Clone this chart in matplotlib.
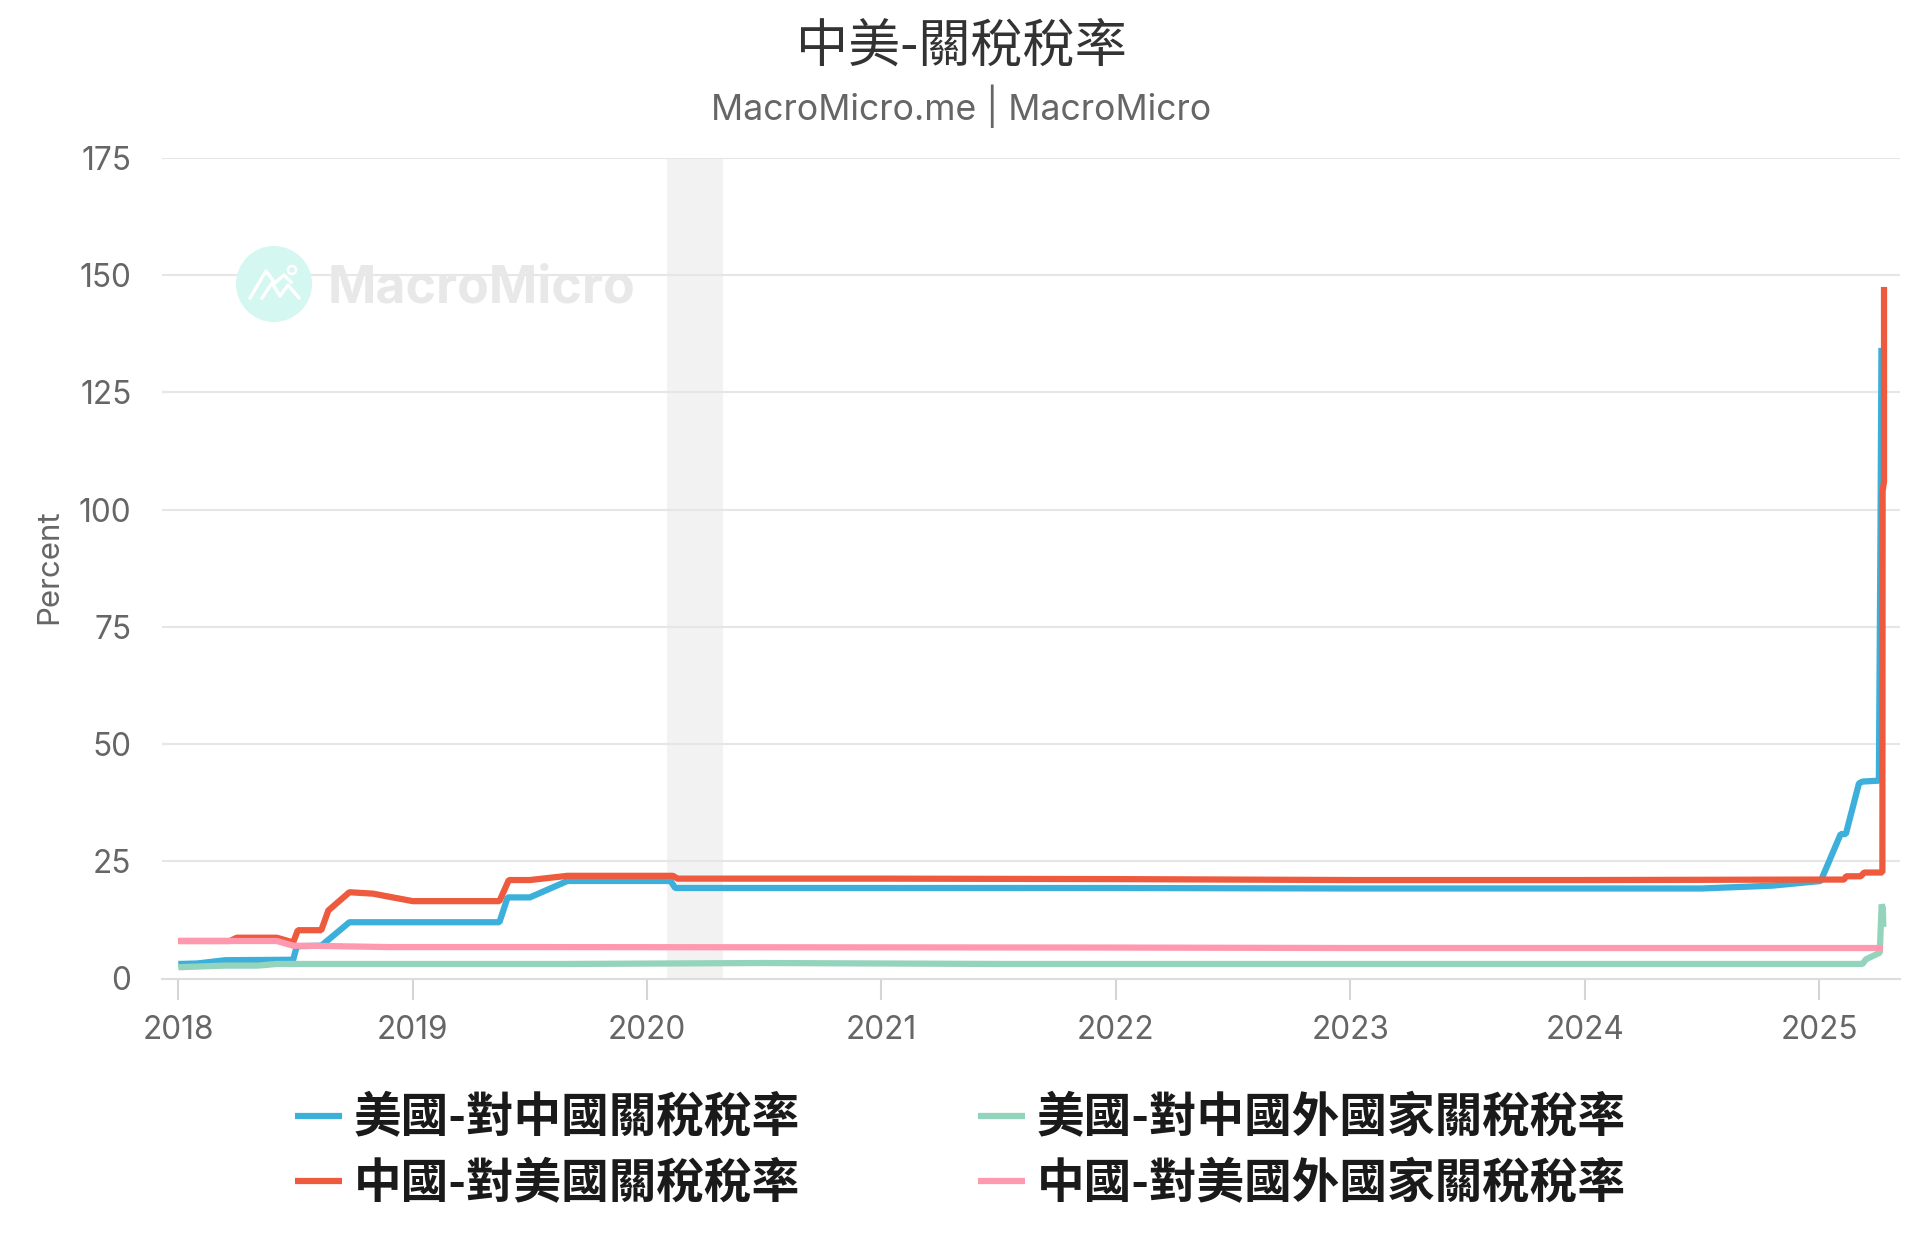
import matplotlib
matplotlib.use("Agg")
import matplotlib.pyplot as plt
from matplotlib.patches import Circle
from matplotlib.lines import Line2D
from matplotlib.transforms import Affine2D

CJK = ['Noto Sans CJK TC', 'DejaVu Sans']
plt.rcParams['font.family'] = ['Inter', 'Noto Sans CJK TC', 'DejaVu Sans']

title = "中美-關稅稅率"
subtitle = "MacroMicro.me | MacroMicro"
ylabel = "Percent"
years = [2018, 2019, 2020, 2021, 2022, 2023, 2024, 2025]
yticks = [0, 25, 50, 75, 100, 125, 150, 175]

us_china_x = [2018.0, 2018.08, 2018.2, 2018.49, 2018.505, 2018.52, 2018.61, 2018.73, 2019.37, 2019.405,
              2019.5, 2019.66, 2020.10, 2020.12, 2021.0, 2022.0, 2023.0, 2024.5, 2024.8, 2025.007,
              2025.092, 2025.114, 2025.17, 2025.185, 2025.255, 2025.262, 2025.266]
us_china_y = [3.1, 3.2, 3.9, 4.0, 6.8, 6.9, 7.0, 12.0, 12.0, 17.3,
              17.3, 20.8, 20.8, 19.3, 19.3, 19.3, 19.2, 19.2, 19.8, 20.8,
              30.8, 30.8, 41.6, 42.0, 42.2, 96.0, 134.5]

china_us_x = [2018.0, 2018.22, 2018.25, 2018.42, 2018.49, 2018.51, 2018.61, 2018.64, 2018.73, 2018.83,
              2019.0, 2019.37, 2019.41, 2019.5, 2019.66, 2020.11, 2020.13, 2021.0, 2022.0, 2023.0,
              2024.0, 2025.0, 2025.107, 2025.115, 2025.178, 2025.192, 2025.27, 2025.271, 2025.277, 2025.277]
china_us_y = [8.0, 8.0, 8.7, 8.7, 7.7, 10.3, 10.3, 14.5, 18.4, 18.1,
              16.5, 16.5, 21.0, 21.0, 21.9, 21.9, 21.3, 21.3, 21.2, 21.0,
              21.0, 21.1, 21.1, 21.8, 21.8, 22.6, 22.6, 104.0, 106.0, 147.5]

us_other_x = [2018.0, 2018.2, 2018.34, 2018.42, 2019.66, 2020.5, 2021.5, 2023.0, 2025.185, 2025.2,
              2025.259, 2025.262, 2025.267, 2025.272, 2025.274]
us_other_y = [2.4, 2.75, 2.75, 3.1, 3.1, 3.3, 3.1, 3.1, 3.1, 4.1,
              5.5, 9.7, 15.8, 15.0, 11.0]

china_other_x = [2018.0, 2018.42, 2018.49, 2018.6, 2018.9, 2019.5, 2022.0, 2023.0, 2025.272]
china_other_y = [8.0, 8.0, 7.0, 6.95, 6.7, 6.7, 6.6, 6.5, 6.5]

names = ["美國-對中國關稅稅率", "中國-對美國關稅稅率", "美國-對中國外國家關稅稅率", "中國-對美國外國家關稅稅率"]
colors = ["#3CB0DB", "#EE5A3E", "#94D3BC", "#FF99AF"]
recession = [2020.085, 2020.325]

W, H = 1920, 1250
fig = plt.figure(figsize=(W / 100, H / 100), dpi=100, facecolor="white")
L, R, T, B = 162, 1900, 158, 978.5
ax = fig.add_axes([L / W, 1 - B / H, (R - L) / W, (B - T) / H])
px_year = 234.4
x0 = 2018 - (178.3 - L) / px_year
ax.set_xlim(x0, x0 + (R - L) / px_year)
ax.set_ylim(0, 175)

ax.axvspan(recession[0], recession[1], color="#F2F2F2", lw=0, zorder=0)
ax.set_axisbelow(True)
ax.yaxis.grid(True, color="#E6E6E6", lw=1.5, zorder=0.5)
ax.xaxis.grid(False)
for s in ["top", "left", "right"]:
    ax.spines[s].set_visible(False)
ax.spines["bottom"].set_color("#DDDDDD")
ax.spines["bottom"].set_linewidth(1.5)
ax.set_xticks(years)
ax.set_xticklabels([str(y) for y in years])
ax.set_yticks(yticks)
ax.tick_params(axis="x", length=15, width=1.5, color="#D5D5D5", labelsize=22.7, labelcolor="#666666", pad=11)
ax.tick_params(axis="y", length=0, labelsize=22.7, labelcolor="#666666", pad=22)

# watermark
px = Affine2D().scale(1 / W, -1 / H).translate(0, 1) + fig.transFigure
fig.add_artist(Circle((274, 284), 38, transform=px, fc="#D5F7F1", ec="none", zorder=0.2))
for xs, ys in [((250, 266, 275, 284, 291), (298, 271, 283, 275, 282)),
               ((262, 272, 280, 288, 299), (298, 283, 296, 285, 298))]:
    fig.add_artist(Line2D(xs, ys, transform=px, color="white", lw=2.4, zorder=0.3))
fig.add_artist(Circle((292, 270), 4, transform=px, fc="none", ec="white", lw=1.8, zorder=0.3))
fig.text(328 / W, 1 - 303 / H, "MacroMicro", color="#E8E8E8", fontsize=37.4, fontweight="bold",
         family=["Inter", "DejaVu Sans"], ha="left", va="baseline", zorder=0.2)

series = [(us_china_x, us_china_y, 0, 3), (china_us_x, china_us_y, 1, 4),
          (us_other_x, us_other_y, 2, 5), (china_other_x, china_other_y, 3, 6)]
handles = {}
for xs, ys, i, z in series:
    line, = ax.plot(xs, ys, color=colors[i], lw=4.5, solid_joinstyle="bevel", solid_capstyle="butt",
                    zorder=z, clip_on=False, label=names[i])
    handles[i] = line

fig.text(961 / W, 1 - 47 / H, title, ha="center", va="center", fontsize=37.5, color="#333333", family=CJK)
fig.text(961 / W, 1 - 106 / H, subtitle, ha="center", va="center", fontsize=25.7, color="#666666")
fig.text(49 / W, 1 - 567 / H, ylabel, rotation=90, ha="center", va="center", fontsize=22.5, color="#666666")

leg = fig.legend([handles[0], handles[1], handles[2], handles[3]], names, ncol=2,
                 loc="center left", bbox_to_anchor=(295 / W, 1 - 1151 / H), frameon=False,
                 prop={"family": CJK, "weight": "bold", "size": 34.3},
                 handlelength=0.98, handletextpad=0.25, columnspacing=3.75, labelspacing=0.37,
                 labelcolor="#1A1A1A", borderpad=0, borderaxespad=0)

fig.savefig("out.png", dpi=100)
